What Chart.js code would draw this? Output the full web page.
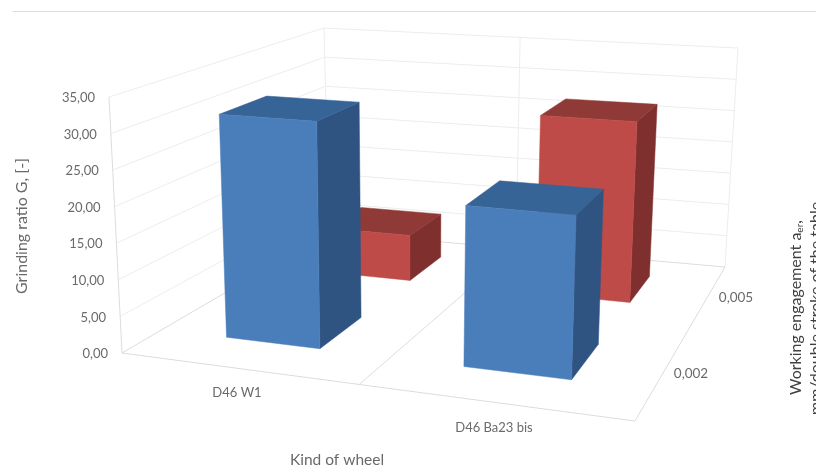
<!DOCTYPE html>
<html>
<head>
<meta charset="utf-8">
<title>Grinding ratio</title>
<script src="https://cdn.jsdelivr.net/npm/chart.js"></script>
<style>
  html, body { margin: 0; padding: 0; background: #fff; overflow: hidden; }
  canvas { display: block; }
</style>
</head>
<body>
<canvas id="chart" width="816" height="472"></canvas>
<script>
// Grinding ratio by wheel and working engagement, 3D column look
const wheelKinds = ['D46 W1', 'D46 Ba23 bis'];
const depthLabels = ['0,002', '0,005'];
const ratioAt002 = [31.3, 21.5];
const ratioAt005 = [7, 27];
const valueTicks = [0, 5, 10, 15, 20, 25, 30, 35];
const valueTickLabels = ['0,00', '5,00', '10,00', '15,00', '20,00', '25,00', '30,00', '35,00'];

const FONT = 'Lato, "Open Sans", sans-serif';
const TEXT = '#6a6a6a';
const WALL_LINE = '#ededed';
const EDGE_LINE = '#dcdcdc';

// box corners on screen: front-left, front-right, back-right, back-left
const floorQuad = [[122, 353], [635, 421], [725, 267], [329, 232]];
const ceilQuad = [[109, 97], [645, 135], [738, 48], [324, 28]];
const barWidth = 0.205;   // along the wheel axis
const barDepth = 0.21;    // along the engagement axis
const depthShift = 0.01;  // columns sit a little behind their slot centre

function quadMap(q) {
  const [[x0, y0], [x1, y1], [x2, y2], [x3, y3]] = q;
  const dx1 = x1 - x2, dx2 = x3 - x2, sx = x0 - x1 + x2 - x3;
  const dy1 = y1 - y2, dy2 = y3 - y2, sy = y0 - y1 + y2 - y3;
  const den = dx1 * dy2 - dx2 * dy1;
  const g = (sx * dy2 - dx2 * sy) / den;
  const h = (dx1 * sy - sx * dy1) / den;
  const a = x1 - x0 + g * x1, b = x3 - x0 + h * x3;
  const d = y1 - y0 + g * y1, e = y3 - y0 + h * y3;
  return (u, v) => {
    const w = g * u + h * v + 1;
    return [(a * u + b * v + x0) / w, (d * u + e * v + y0) / w];
  };
}
const onFloor = quadMap(floorQuad);
const onCeil = quadMap(ceilQuad);

// u: along wheels, v: along engagement, z: 0..1 of the value axis
function project(u, v, z) {
  const f = onFloor(u, v), c = onCeil(u, v);
  return [f[0] + (c[0] - f[0]) * z, f[1] + (c[1] - f[1]) * z];
}

function heightOf(scale, value) {
  return scale.getDecimalForPixel(scale.getPixelForValue(value));
}

function poly(ctx, pts, fill) {
  ctx.beginPath();
  pts.forEach((p, i) => i ? ctx.lineTo(p[0], p[1]) : ctx.moveTo(p[0], p[1]));
  ctx.closePath();
  ctx.fillStyle = fill;
  ctx.fill();
  ctx.strokeStyle = fill;
  ctx.lineWidth = 0.5;
  ctx.stroke();
}

function seg(ctx, a, b, color) {
  ctx.beginPath();
  ctx.moveTo(a[0], a[1]);
  ctx.lineTo(b[0], b[1]);
  ctx.strokeStyle = color;
  ctx.lineWidth = 1;
  ctx.stroke();
}

function label(ctx, text, x, y, size, color, align) {
  ctx.font = size + 'px ' + FONT;
  ctx.fillStyle = color;
  ctx.textAlign = align || 'center';
  ctx.textBaseline = 'middle';
  ctx.fillText(text, x, y);
}

const box3d = {
  id: 'box3d',
  // walls and floor behind the columns
  beforeDatasetsDraw(chart) {
    const ctx = chart.ctx, y = chart.scales.y;
    valueTicks.forEach(t => {
      const z = heightOf(y, t);
      seg(ctx, project(0, 0, z), project(0, 1, z), t ? WALL_LINE : EDGE_LINE);
      seg(ctx, project(0, 1, z), project(1, 1, z), t ? WALL_LINE : EDGE_LINE);
    });
    seg(ctx, project(0, 1, 0), project(0, 1, 1), WALL_LINE);
    seg(ctx, project(0.5, 1, 0), project(0.5, 1, 1), WALL_LINE);
    seg(ctx, project(1, 1, 0), project(1, 1, 1), WALL_LINE);
    seg(ctx, project(0.5, 0, 0), project(0.5, 1, 0), EDGE_LINE);
    seg(ctx, project(0, 0, 0), project(0, 0, 1), EDGE_LINE);
    seg(ctx, project(0, 0, 0), project(1, 0, 0), EDGE_LINE);
    seg(ctx, project(1, 0, 0), project(1, 1, 0), EDGE_LINE);
  },
  // each column: side, top, then front
  beforeDatasetDraw(chart, args) {
    const ctx = chart.ctx, xs = chart.scales.x, ys = chart.scales.y;
    const ds = chart.data.datasets[args.index];
    const vc = (args.index + 0.5) / depthLabels.length + depthShift;
    const v0 = vc - barDepth / 2, v1 = vc + barDepth / 2;
    ds.data.forEach((val, i) => {
      const uc = (xs.getPixelForTick(i) - xs.left) / xs.width;
      const u0 = uc - barWidth / 2, u1 = uc + barWidth / 2;
      const z = heightOf(ys, val);
      poly(ctx, [project(u1, v0, 0), project(u1, v1, 0), project(u1, v1, z), project(u1, v0, z)], ds.sideColor);
      poly(ctx, [project(u0, v0, z), project(u1, v0, z), project(u1, v1, z), project(u0, v1, z)], ds.topColor);
      poly(ctx, [project(u0, v0, 0), project(u1, v0, 0), project(u1, v0, z), project(u0, v0, z)], ds.backgroundColor);
    });
    return false;
  },
  afterDraw(chart) {
    const ctx = chart.ctx, y = chart.scales.y;
    seg(ctx, [13, 11.5], [816, 11.5], '#dddddd');

    valueTicks.forEach((t, i) => {
      const p = project(0, 0, heightOf(y, t));
      label(ctx, valueTickLabels[i], p[0] - 14, p[1] + 1, 13, TEXT, 'right');
    });
    label(ctx, wheelKinds[0], 237, 393, 13, TEXT);
    label(ctx, wheelKinds[1], 494, 428, 13, TEXT);
    label(ctx, depthLabels[1], 736, 298, 13.5, TEXT);
    label(ctx, depthLabels[0], 691, 374, 13.5, TEXT);
    label(ctx, 'Kind of wheel', 337, 460, 15.5, TEXT);

    ctx.save();
    ctx.translate(22, 226);
    ctx.rotate(-Math.PI / 2);
    label(ctx, 'Grinding ratio G, [-]', 0, 0, 16, TEXT);
    ctx.restore();

    // right-hand title, second line runs off the edge
    ctx.save();
    ctx.translate(796, 395);
    ctx.rotate(-Math.PI / 2);
    label(ctx, 'Working engagement a', 0, 0, 16, '#404040', 'left');
    let w = ctx.measureText('Working engagement a').width;
    label(ctx, 'er', w, 4, 10, '#404040', 'left');
    w += ctx.measureText('er').width;
    label(ctx, ',', w, 0, 16, '#404040', 'left');
    label(ctx, 'mm/double stroke of the table', -20, 20, 16, '#404040', 'left');
    ctx.restore();
  }
};

new Chart(document.getElementById('chart'), {
  type: 'bar',
  data: {
    labels: wheelKinds,
    datasets: [
      { label: depthLabels[0], data: ratioAt002, backgroundColor: '#4a7ebb', topColor: '#376497', sideColor: '#2f5482' },
      { label: depthLabels[1], data: ratioAt005, backgroundColor: '#be4b48', topColor: '#8f3a37', sideColor: '#7f2f2d' }
    ]
  },
  options: {
    responsive: false,
    animation: false,
    layout: { padding: 0 },
    plugins: { legend: { display: false }, tooltip: { enabled: false } },
    scales: {
      x: { display: false },
      y: { display: false, min: 0, max: 35 }
    }
  },
  plugins: [box3d]
});
</script>
</body>
</html>
